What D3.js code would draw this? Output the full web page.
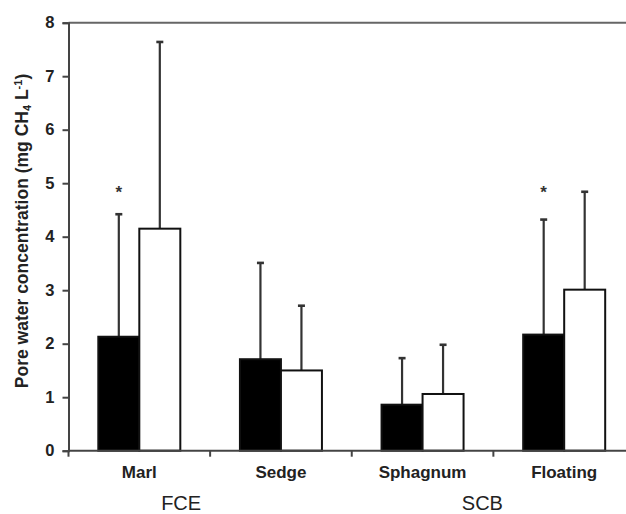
<!DOCTYPE html>
<html>
<head>
<meta charset="utf-8">
<script src="https://cdn.jsdelivr.net/npm/d3@7"></script>
<style>
  body { margin: 0; background: #fff; }
  svg { display: block; }
  text { font-family: "Liberation Sans", Arial, sans-serif; }
</style>
</head>
<body>
<svg id="chart" width="626" height="514"></svg>
<script>

// Categories along the x axis
const categories = ["Marl", "Sedge", "Sphagnum", "Floating"];

// Two series: filled (black) and open (white) bars
const series = ["filled", "open"];

// Mean values
const filledValues = [2.13, 1.71, 0.86, 2.17];
const openValues   = [4.15, 1.50, 1.06, 3.01];

// Upper error bar lengths
const filledErrors = [2.29, 1.80, 0.87, 2.15];
const openErrors   = [3.49, 1.21, 0.92, 1.83];

// Significance asterisks (category, series, value where it sits)
const asterisks = [
  { cat: "Marl", s: "filled", value: 4.91 },
  { cat: "Floating", s: "filled", value: 4.91 }
];

// Site group labels below the category labels
const groupLabels = ["FCE", "SCB"];
const groupCats = [["Marl", "Sedge"], ["Sphagnum", "Floating"]];

const yTicks = [0, 1, 2, 3, 4, 5, 6, 7, 8];

var svg = d3.select("svg#chart");

const plotLeft = 68.5, plotRight = 635, plotTop = 22.7, plotBottom = 450.7;

// Build rows for drawing
var rows = [];
categories.forEach(function(c, i) {
  rows.push({ cat: c, s: "filled", value: filledValues[i], err: filledErrors[i] });
  rows.push({ cat: c, s: "open", value: openValues[i], err: openErrors[i] });
});

const pad = 0.421;
var x0 = d3.scaleBand()
    .domain(categories)
    .range([plotLeft, plotRight])
    .paddingInner(pad)
    .paddingOuter(pad / 2);

var x1 = d3.scaleBand()
    .domain(series)
    .range([0, x0.bandwidth()]);

var y = d3.scaleLinear()
    .domain([0, 8])
    .range([plotBottom, plotTop]);

const axisColor = "#444";

// Top frame line
svg.append("line")
    .attr("x1", plotLeft).attr("x2", 626)
    .attr("y1", y(8)).attr("y2", y(8))
    .attr("stroke", "#666")
    .attr("stroke-width", 2);

// Error bars (upward only), drawn under the bars
var errg = svg.append("g").attr("class", "errors");
errg.selectAll("line.v")
    .data(rows)
    .enter()
    .append("line")
    .attr("class", "v")
    .attr("x1", d => x0(d.cat) + x1(d.s) + x1.bandwidth() / 2)
    .attr("x2", d => x0(d.cat) + x1(d.s) + x1.bandwidth() / 2)
    .attr("y1", d => y(d.value))
    .attr("y2", d => y(d.value + d.err))
    .attr("stroke", "#333")
    .attr("stroke-width", 2.2);

errg.selectAll("line.cap")
    .data(rows)
    .enter()
    .append("line")
    .attr("class", "cap")
    .attr("x1", d => x0(d.cat) + x1(d.s) + x1.bandwidth() / 2 - 3.5)
    .attr("x2", d => x0(d.cat) + x1(d.s) + x1.bandwidth() / 2 + 3.5)
    .attr("y1", d => y(d.value + d.err))
    .attr("y2", d => y(d.value + d.err))
    .attr("stroke", "#333")
    .attr("stroke-width", 2.6);

// Bars
svg.append("g").attr("class", "bars")
    .selectAll("rect")
    .data(rows)
    .enter()
    .append("rect")
    .attr("x", d => x0(d.cat) + x1(d.s))
    .attr("y", d => y(d.value))
    .attr("width", x1.bandwidth())
    .attr("height", d => y(0) - y(d.value))
    .attr("fill", d => d.s == "filled" ? "#000" : "#fff")
    .attr("stroke", "#111")
    .attr("stroke-width", 2);

// Asterisks
svg.append("g").attr("class", "stars")
    .selectAll("text")
    .data(asterisks)
    .enter()
    .append("text")
    .attr("x", d => x0(d.cat) + x1(d.s) + x1.bandwidth() / 2)
    .attr("y", d => y(d.value) + 10)
    .attr("text-anchor", "middle")
    .style("font-size", "17px")
    .style("font-weight", "bold")
    .style("fill", "#333")
    .text("*");

// Y axis
var yaxis = d3.axisLeft(y).tickValues(yTicks).tickSize(6).tickPadding(8);
var yg = svg.append("g")
    .attr("transform", "translate(" + plotLeft + ",0)")
    .call(yaxis);
yg.select(".domain").attr("stroke", axisColor).attr("stroke-width", 2);
yg.selectAll(".tick line").attr("stroke", axisColor).attr("stroke-width", 2);
yg.selectAll(".tick text")
    .style("font-size", "16.5px")
    .style("font-weight", "bold")
    .style("fill", "#222")
    .style("font-family", "'Liberation Sans', Arial, sans-serif");

// X axis line and boundary ticks
var xg = svg.append("g").attr("class", "xaxis");
xg.append("line")
    .attr("x1", plotLeft).attr("x2", 626)
    .attr("y1", y(0)).attr("y2", y(0))
    .attr("stroke", axisColor)
    .attr("stroke-width", 2);

xg.selectAll("line.tick")
    .data(categories)
    .enter()
    .append("line")
    .attr("class", "tick")
    .attr("x1", d => x0(d) - x0.step() * pad / 2)
    .attr("x2", d => x0(d) - x0.step() * pad / 2)
    .attr("y1", y(0))
    .attr("y2", y(0) + 6)
    .attr("stroke", axisColor)
    .attr("stroke-width", 2);

// Category labels
xg.selectAll("text.cat")
    .data(categories)
    .enter()
    .append("text")
    .attr("class", "cat")
    .attr("x", d => x0(d) + x0.bandwidth() / 2)
    .attr("y", y(0) + 27)
    .attr("text-anchor", "middle")
    .style("font-size", "17px")
    .style("font-weight", "bold")
    .style("fill", "#222")
    .text(d => d);

// Group labels (FCE / SCB), nudged left of the pair centre
const groupShift = [-29, -11];
xg.selectAll("text.group")
    .data(groupLabels)
    .enter()
    .append("text")
    .attr("class", "group")
    .attr("x", function(d, i) {
        var a = x0(groupCats[i][0]) + x0.bandwidth() / 2,
            b = x0(groupCats[i][1]) + x0.bandwidth() / 2;
        return (a + b) / 2 + groupShift[i];
    })
    .attr("y", y(0) + 59)
    .attr("text-anchor", "middle")
    .style("font-size", "20px")
    .style("fill", "#222")
    .text(d => d);

// Y axis title
var title = svg.append("text")
    .attr("transform", "translate(28,231) rotate(-90)")
    .attr("text-anchor", "middle")
    .style("font-size", "17.5px")
    .style("font-weight", "bold")
    .style("fill", "#222");
title.append("tspan").text("Pore water concentration (mg CH");
title.append("tspan").attr("dy", 3).style("font-size", "11px").text("4");
title.append("tspan").attr("dy", -3).text(" L");
title.append("tspan").attr("dy", -6).style("font-size", "11px").text("-1");
title.append("tspan").attr("dy", 6).text(")");

</script>
</body>
</html>
